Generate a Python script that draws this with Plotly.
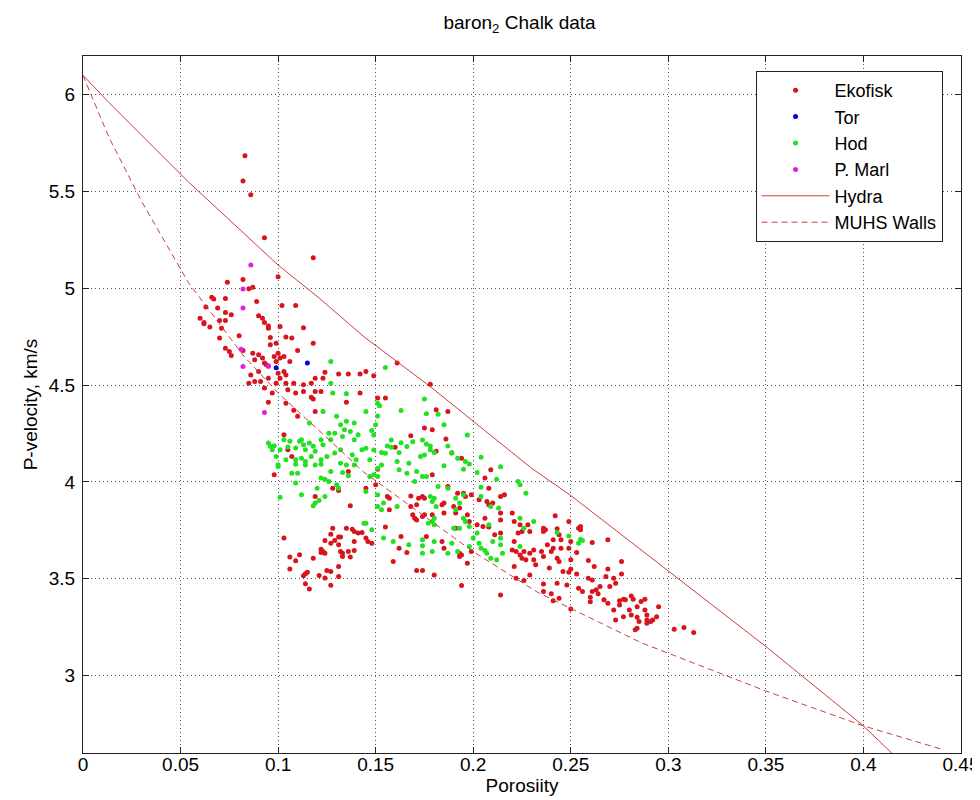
import plotly.graph_objects as go

# ---------------- data (porosity, P-velocity km/s) ----------------
ekofisk_top = [(0.083,5.685),(0.082,5.555),(0.086,5.484),(0.093,5.261),(0.118,5.158),(0.100,5.060),
               (0.074,5.032),(0.082,5.046),(0.085,4.998),(0.087,5.006)]
ekofisk_upper = [(0.066,4.954),(0.067,4.945),(0.073,4.947),(0.089,4.932),(0.102,4.911),(0.109,4.911),
    (0.063,4.903),(0.069,4.898),(0.073,4.875),(0.076,4.863),(0.090,4.858),(0.092,4.846),(0.093,4.824),
    (0.095,4.806),(0.095,4.794),(0.060,4.846),(0.062,4.824),(0.062,4.817),(0.070,4.834),(0.073,4.834),
    (0.071,4.794),(0.065,4.800),(0.101,4.803),(0.113,4.796),(0.080,4.755),(0.070,4.743),(0.096,4.746),
    (0.104,4.748),(0.107,4.743),(0.118,4.717),(0.073,4.691),(0.075,4.674),(0.076,4.653),(0.082,4.679),
    (0.099,4.717),(0.096,4.708),(0.087,4.665),(0.088,4.631),(0.090,4.657),(0.092,4.640),(0.093,4.614),
    (0.095,4.597),(0.094,4.605),(0.098,4.648),(0.100,4.665),(0.101,4.640),(0.103,4.648),(0.099,4.622),
    (0.110,4.679),(0.106,4.622),(0.124,4.566),(0.131,4.557),(0.136,4.557),(0.142,4.557),(0.086,4.553),
    (0.085,4.510),(0.088,4.519),(0.090,4.570),(0.091,4.519),(0.095,4.536),(0.100,4.562),(0.101,4.536),
    (0.103,4.570),(0.104,4.553),(0.099,4.510),(0.104,4.510),(0.108,4.510),(0.113,4.502),(0.117,4.510),
    (0.119,4.536),(0.123,4.536),(0.093,4.485),(0.097,4.459),(0.105,4.476),(0.109,4.459),(0.113,4.467),
    (0.117,4.438),(0.118,4.428),(0.119,4.467),(0.122,4.467),(0.142,4.459),(0.095,4.411),(0.104,4.407),
    (0.108,4.370),(0.110,4.339),(0.119,4.364),(0.103,4.244),(0.105,4.166),(0.107,4.132),(0.135,4.411),
    (0.161,4.614),(0.145,4.571),(0.149,4.548),(0.178,4.505),(0.151,4.433),(0.155,4.433),(0.181,4.373),
    (0.187,4.364),(0.175,4.278),(0.179,4.270),(0.168,4.239),(0.160,4.179),(0.186,4.222),(0.181,4.158),
    (0.189,4.149),(0.194,4.123)]
ekofisk_left_low = [(0.098,4.037),(0.128,3.968),(0.131,3.956),(0.136,4.054),(0.119,3.925),(0.137,3.877),
    (0.128,3.761),(0.127,3.730),(0.124,3.697),(0.129,3.697),(0.131,3.715),(0.132,3.715),(0.127,3.684),
    (0.122,3.653),(0.123,3.641),(0.124,3.632),(0.122,3.636),(0.131,3.675),(0.132,3.641),(0.133,3.632),
    (0.133,3.615),(0.135,3.761),(0.138,3.756),(0.139,3.744),(0.141,3.736),(0.143,3.739),(0.139,3.693),
    (0.139,3.646),(0.136,3.641),(0.137,3.612),(0.103,3.710),(0.106,3.612),(0.109,3.593),(0.111,3.624),
    (0.118,3.606),(0.106,3.550),(0.113,3.515),(0.114,3.526),(0.115,3.533),(0.121,3.517),(0.124,3.504),
    (0.125,3.543),(0.127,3.538),(0.131,3.512),(0.114,3.474),(0.116,3.447),(0.127,3.467),(0.131,3.563)]
ekofisk_mid = [(0.151,4.066),(0.179,4.037),(0.209,4.063),(0.206,4.020),(0.145,3.968),(0.150,3.985),
    (0.156,3.925),(0.157,3.916),(0.168,3.928),(0.172,3.916),(0.174,3.925),(0.175,3.916),(0.187,3.977),
    (0.192,3.942),(0.195,3.942),(0.196,3.925),(0.199,3.934),(0.208,3.968),(0.214,3.925),(0.216,3.934),
    (0.203,3.908),(0.207,3.899),(0.208,3.882),(0.210,3.891),(0.185,3.891),(0.184,3.882),(0.190,3.873),
    (0.193,3.865),(0.168,3.873),(0.171,3.882),(0.157,3.856),(0.169,3.830),(0.170,3.813),(0.171,3.804),
    (0.174,3.822),(0.175,3.830),(0.179,3.830),(0.185,3.839),(0.191,3.839),(0.197,3.830),(0.198,3.796),
    (0.202,3.779),(0.205,3.770),(0.208,3.767),(0.206,3.813),(0.214,3.839),(0.214,3.804),(0.220,3.839),
    (0.221,3.796),(0.224,3.779),(0.228,3.779),(0.229,3.744),(0.225,3.744),(0.223,3.736),(0.211,3.727),
    (0.214,3.736),(0.155,3.767),(0.191,3.761),(0.145,3.710),(0.146,3.693),(0.148,3.684),(0.163,3.718),
    (0.176,3.718),(0.184,3.693),(0.185,3.658),(0.162,3.658),(0.166,3.635),(0.193,3.632),(0.194,3.623),
    (0.199,3.641),(0.197,3.580),(0.193,3.615),(0.221,3.693),(0.220,3.649),(0.222,3.641),(0.224,3.623),
    (0.225,3.606),(0.227,3.598),(0.226,3.641),(0.229,3.632),(0.231,3.649),(0.231,3.598),(0.159,3.589),
    (0.171,3.543),(0.174,3.543),(0.180,3.520),(0.194,3.465),(0.214,3.416),(0.222,3.503),(0.226,3.491),
    (0.229,3.520),(0.221,3.563),(0.232,3.572)]
ekofisk_right = [(0.242,3.825),(0.249,3.796),(0.236,3.761),(0.237,3.753),(0.236,3.744),(0.243,3.758),
    (0.244,3.727),(0.254,3.761),(0.255,3.770),(0.255,3.753),(0.269,3.701),(0.241,3.701),(0.245,3.701),
    (0.250,3.693),(0.238,3.675),(0.235,3.641),(0.240,3.641),(0.241,3.658),(0.245,3.658),(0.249,3.658),
    (0.253,3.636),(0.236,3.615),(0.243,3.606),(0.244,3.589),(0.250,3.598),(0.250,3.550),(0.246,3.538),
    (0.249,3.533),(0.259,3.594),(0.261,3.687),(0.262,3.563),(0.276,3.589),(0.269,3.550),(0.276,3.525),
    (0.253,3.525),(0.239,3.555),(0.259,3.503),(0.261,3.494),(0.268,3.512),(0.272,3.503),(0.236,3.473),
    (0.243,3.477),(0.248,3.468),(0.254,3.451),(0.256,3.434),(0.261,3.434),(0.263,3.443),(0.265,3.460),
    (0.264,3.422),(0.260,3.405),(0.260,3.381),(0.270,3.460),(0.273,3.477),(0.236,3.434),(0.240,3.422),
    (0.244,3.399),(0.241,3.386),(0.250,3.344),(0.267,3.391),(0.269,3.373),(0.275,3.387),(0.277,3.394),
    (0.278,3.391),(0.275,3.365),(0.272,3.339),(0.277,3.304),(0.273,3.287),(0.281,3.411),(0.282,3.394),
    (0.284,3.356),(0.286,3.382),(0.288,3.394),(0.288,3.339),(0.289,3.313),(0.284,3.301),(0.285,3.279),
    (0.289,3.287),(0.289,3.270),(0.291,3.279),(0.294,3.304),(0.295,3.356),(0.283,3.236),(0.284,3.244),
    (0.281,3.313),(0.280,3.339),(0.303,3.239),(0.308,3.248),(0.313,3.222),(0.292,3.287)]

tor_pts = [(0.099,4.590),(0.115,4.614)]

hod_upper = [(0.127,4.622),(0.127,4.510),(0.128,4.459),(0.135,4.455),(0.123,4.364),(0.130,4.339),
    (0.116,4.304),(0.139,4.304),(0.135,4.313),(0.095,4.201),(0.096,4.184),(0.097,4.166),(0.098,4.187),
    (0.099,4.132),(0.100,4.089),(0.101,4.166),(0.103,4.218),(0.105,4.180),(0.106,4.210),(0.109,4.175),
    (0.111,4.210),(0.112,4.218),(0.113,4.192),(0.114,4.166),(0.116,4.201),(0.118,4.184),(0.119,4.158),
    (0.122,4.218),(0.123,4.192),(0.126,4.252),(0.127,4.218),(0.129,4.252),(0.132,4.295),(0.133,4.235),
    (0.134,4.269),(0.137,4.261),(0.139,4.218),(0.141,4.244),(0.143,4.166),(0.138,4.141),(0.140,4.114),
    (0.122,4.114),(0.125,4.132),(0.117,4.132),(0.112,4.123),(0.114,4.106),(0.109,4.114),(0.104,4.114),
    (0.132,4.097),(0.129,4.149),(0.132,4.166)]
hod_left_low = [(0.100,4.080),(0.109,4.092),(0.114,4.088),(0.119,4.088),(0.122,4.092),(0.127,4.054),
    (0.133,4.049),(0.135,4.088),(0.136,4.032),(0.139,4.088),(0.107,4.045),(0.110,4.045),(0.109,3.994),
    (0.122,4.020),(0.124,4.014),(0.126,4.002),(0.130,3.985),(0.131,3.968),(0.120,3.968),(0.112,3.934),
    (0.124,3.925),(0.101,3.921),(0.118,3.877),(0.119,3.891),(0.121,3.904)]
hod_mid_upper = [(0.155,4.591),(0.175,4.428),(0.151,4.407),(0.152,4.393),(0.163,4.369),(0.145,4.364),
    (0.176,4.352),(0.182,4.350),(0.151,4.341),(0.185,4.295),(0.150,4.295),(0.148,4.266),(0.149,4.243),
    (0.197,4.243),(0.158,4.217),(0.163,4.203),(0.169,4.208),(0.174,4.217),(0.176,4.196),(0.178,4.186),
    (0.156,4.186),(0.158,4.179),(0.166,4.183),(0.145,4.174),(0.153,4.152),(0.155,4.148),(0.149,4.165),
    (0.162,4.152),(0.178,4.166),(0.180,4.152),(0.187,4.186),(0.189,4.152),(0.192,4.123),(0.196,4.105),
    (0.198,4.093),(0.204,4.128),(0.147,4.114),(0.153,4.088),(0.161,4.105),(0.167,4.097),(0.173,4.131),
    (0.175,4.139),(0.185,4.083),(0.214,4.079)]
hod_mid = [(0.151,4.071),(0.149,4.037),(0.151,4.028),(0.147,4.028),(0.162,4.063),(0.166,4.045),
    (0.171,4.054),(0.174,4.028),(0.176,4.028),(0.170,4.002),(0.182,3.977),(0.187,3.968),(0.195,4.066),
    (0.202,4.049),(0.204,3.973),(0.212,4.014),(0.204,3.925),(0.223,4.002),(0.224,3.985),(0.227,3.942),
    (0.145,3.951),(0.151,3.934),(0.154,3.891),(0.151,3.873),(0.153,3.856),(0.161,3.873),(0.178,3.925),
    (0.180,3.916),(0.179,3.899),(0.181,3.873),(0.191,3.916),(0.195,3.934),(0.193,3.891),(0.191,3.856),
    (0.195,3.813),(0.196,3.796),(0.193,3.761),(0.190,3.761),(0.198,3.770),(0.180,3.813),(0.179,3.796),
    (0.180,3.779),(0.177,3.787),(0.202,3.736),(0.203,3.684),(0.204,3.658),(0.206,3.646),(0.207,3.632),
    (0.209,3.606),(0.212,3.598),(0.214,3.675),(0.214,3.710),(0.215,3.632),(0.208,3.779),(0.209,3.873),
    (0.213,3.865),(0.224,3.813),(0.226,3.761),(0.224,3.667),(0.144,3.787),(0.145,3.787),(0.148,3.753),
    (0.154,3.710),(0.159,3.693),(0.167,3.675),(0.174,3.701),(0.174,3.670),(0.174,3.632),(0.179,3.641),
    (0.180,3.693),(0.187,3.632),(0.189,3.684),(0.198,3.667),(0.200,3.710),(0.192,3.641),(0.210,3.693),
    (0.231,3.796),(0.243,3.739),(0.249,3.721),(0.254,3.684),(0.255,3.704),(0.256,3.697)]

pmarl_pts = [(0.086,5.120),(0.082,4.996),(0.082,4.898),(0.081,4.686),(0.082,4.596),(0.093,4.359),(0.095,4.600)]

hydra_phi = [0.0, 0.0133, 0.054, 0.100, 0.121, 0.144, 0.177, 0.230, 0.250, 0.300, 0.350, 0.400, 0.4155]
hydra_vp  = [6.10, 5.96, 5.55, 5.12, 4.95, 4.75, 4.50, 4.07, 3.93, 3.54, 3.15, 2.74, 2.59]
muhs_phi = [0.0, 0.0133, 0.030, 0.054, 0.0824, 0.100, 0.128, 0.144, 0.200, 0.233, 0.286, 0.350, 0.400, 0.440]
muhs_vp  = [6.10, 5.78, 5.45, 5.03, 4.65, 4.46, 4.20, 4.05, 3.64, 3.43, 3.17, 2.92, 2.74, 2.62]

x_ticks = [0, 0.05, 0.1, 0.15, 0.2, 0.25, 0.3, 0.35, 0.4, 0.45]
y_ticks = [3, 3.5, 4, 4.5, 5, 5.5, 6]

# ---------------- figure ----------------
def xs(p): return [a for a, b in p]
def ys(p): return [b for a, b in p]

ekofisk = ekofisk_top + ekofisk_upper + ekofisk_left_low + ekofisk_mid + ekofisk_right
hod = hod_upper + hod_left_low + hod_mid_upper + hod_mid

RED = "#d8141c"
LINE_RED = "#c84040"
fig = go.Figure()
fig.add_trace(go.Scatter(x=xs(ekofisk), y=ys(ekofisk), mode="markers", name="Ekofisk",
                         marker=dict(color=RED, size=5, symbol="circle")))
fig.add_trace(go.Scatter(x=xs(tor_pts), y=ys(tor_pts), mode="markers", name="Tor",
                         marker=dict(color="#0000e0", size=5)))
fig.add_trace(go.Scatter(x=xs(hod), y=ys(hod), mode="markers", name="Hod",
                         marker=dict(color="#22e022", size=5)))
fig.add_trace(go.Scatter(x=xs(pmarl_pts), y=ys(pmarl_pts), mode="markers", name="P. Marl",
                         marker=dict(color="#e020e0", size=5)))
fig.add_trace(go.Scatter(x=hydra_phi, y=hydra_vp, mode="lines", name="Hydra",
                         line=dict(color=LINE_RED, width=1)))
fig.add_trace(go.Scatter(x=muhs_phi, y=muhs_vp, mode="lines", name="MUHS Walls",
                         line=dict(color=LINE_RED, width=1, dash="6px,4px")))

FONT = "Liberation Sans, Arial, sans-serif"
axis_common = dict(showline=True, linecolor="#222222", linewidth=1, mirror="ticks",
                   ticks="inside", ticklen=6, tickcolor="#222222",
                   showgrid=True, gridcolor="#555555", gridwidth=1, griddash="1px,3px",
                   zeroline=False, automargin=False,
                   tickfont=dict(family=FONT, size=19, color="black"))

fig.update_layout(
    width=980, height=800,
    margin=dict(l=75, r=27, t=48, b=55),
    paper_bgcolor="white", plot_bgcolor="white",
    font=dict(family=FONT, color="black"),
    title=dict(text="baron<sub>2</sub> Chalk data", x=0.522, xanchor="center",
               y=0.99, yanchor="top", font=dict(family=FONT, size=19, color="black")),
    xaxis=dict(range=[0, 0.45], tickvals=x_ticks, ticktext=[f"{v:g}" for v in x_ticks],
               ticklabelstandoff=-6,
               title=dict(text="Porosiity", font=dict(family=FONT, size=19), standoff=2), **axis_common),
    yaxis=dict(range=[2.6, 6.2], tickvals=y_ticks, ticktext=[f"{v:g}" for v in y_ticks],
               ticklabelstandoff=3,
               title=dict(text="P-velocity, km/s", font=dict(family=FONT, size=19), standoff=6), **axis_common),
    legend=dict(x=0.979, y=0.9785, xanchor="right", yanchor="top", bgcolor="white",
                bordercolor="#222222", borderwidth=1, font=dict(family=FONT, size=18),
                itemwidth=68, tracegroupgap=0),
    showlegend=True,
)
fig.write_html("out.html")
